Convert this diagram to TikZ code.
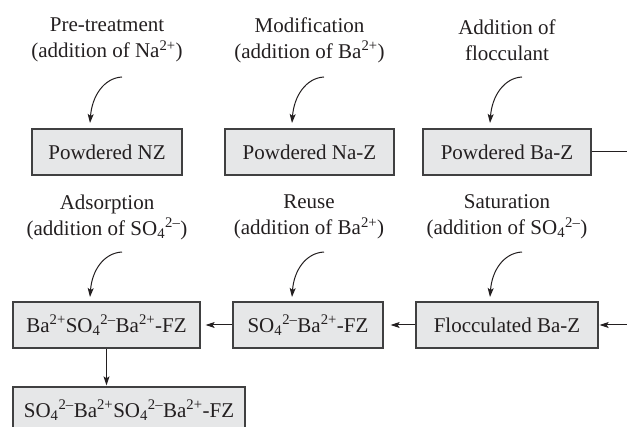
\documentclass[tikz,border=0pt]{standalone}
\usepackage{fontspec}
\setmainfont{Liberation Serif}
\usetikzlibrary{arrows.meta}
\definecolor{boxfill}{HTML}{E6E7E8}
\definecolor{ink}{HTML}{231F20}
\definecolor{edge}{HTML}{404041}
\tikzset{
  procbox/.style={draw=edge, line width=1.3pt, fill=boxfill, text=ink, minimum height=46pt, inner sep=0pt},
  lbl/.style={align=center, inner sep=0pt, text=ink, font=\fontsize{21}{26}\selectfont},
  conn/.style={draw=ink, line width=1pt, -{Stealth[length=9pt,width=6pt,inset=2pt]}},
}
\newcommand{\sulf}{SO\textsubscript{4}\textsuperscript{2–}}
\newcommand{\barium}{Ba\textsuperscript{2+}}
\begin{document}
\begin{tikzpicture}[x=1pt,y=-1pt,font=\fontsize{21}{24}\selectfont]
\useasboundingbox (0,0) rectangle (627,427);
\clip (0,0) rectangle (627,427);
% labels
\node[lbl] (l1) at (107,40) {Pre-treatment\\(addition of Na\textsuperscript{2+})};
\node[lbl] (l2) at (309.5,40) {Modification\\(addition of \barium)};
\node[lbl] (l3) at (507,40) {Addition of\\flocculant};
\node[lbl] (l4) at (107,217) {Adsorption\\(addition of \sulf)};
\node[lbl] (l5) at (309,217) {Reuse\\(addition of \barium)};
\node[lbl] (l6) at (507,217) {Saturation\\(addition of \sulf)};
% boxes
\node[procbox, minimum width=150pt] (nz) at (107,152) {Powdered NZ};
\node[procbox, minimum width=169pt] (naz) at (309.5,152) {Powdered Na-Z};
\node[procbox, minimum width=168pt] (baz) at (507,152) {Powdered Ba-Z};
\node[procbox, minimum width=187pt] (bsb) at (106.5,325) {\barium\sulf\barium-FZ};
\node[procbox, minimum width=150pt] (sb) at (308,325) {\sulf\barium-FZ};
\node[procbox, minimum width=182pt] (floc) at (507,325) {Flocculated Ba-Z};
\node[procbox, minimum width=232pt] (fin) at (129,410) {\sulf\barium\sulf\barium-FZ};
% curved arrow coordinates
\coordinate (s1) at (122,77);  \coordinate (e1) at (90,123);
\coordinate (s2) at (324,77);  \coordinate (e2) at (292,123);
\coordinate (s3) at (522,77);  \coordinate (e3) at (490,123);
\coordinate (s4) at (122,252); \coordinate (e4) at (90,297);
\coordinate (s5) at (324,252); \coordinate (e5) at (292,297);
\coordinate (s6) at (522,252); \coordinate (e6) at (490,297);
\foreach \i in {1,...,6}{
  \draw[conn] (s\i) .. controls +(-18,1) and +(2,-27) .. (e\i);
}
% straight connectors
\draw[conn, shorten >=5pt] (sb.west) -- (bsb.east);
\draw[conn, shorten >=7pt] (floc.west) -- (sb.east);
\draw[conn, shorten >=1pt] (bsb.south) -- (bsb.south |- fin.north);
\draw[conn, shorten >=1pt] (baz.east) -- ++(60,0) |- (floc.east);
\end{tikzpicture}
\end{document}
